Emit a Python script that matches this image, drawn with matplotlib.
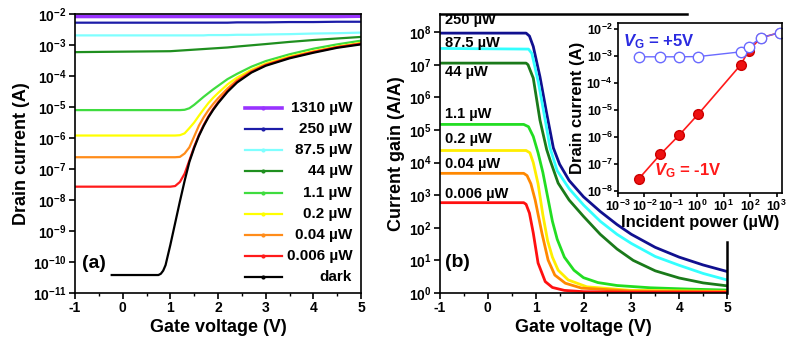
import numpy as np
import matplotlib.pyplot as plt
from matplotlib.ticker import LogLocator, NullLocator, MultipleLocator

plt.rcParams['font.family'] = ['Liberation Sans', 'DejaVu Sans']
plt.rcParams['font.weight'] = 'bold'
plt.rcParams['axes.labelweight'] = 'bold'
plt.rcParams['axes.linewidth'] = 1.2
plt.rcParams['axes.unicode_minus'] = False
plt.rcParams['mathtext.fontset'] = 'custom'
plt.rcParams['mathtext.rm'] = 'Liberation Sans:bold'
plt.rcParams['mathtext.it'] = 'Liberation Sans:bold:italic'
plt.rcParams['mathtext.bf'] = 'Liberation Sans:bold'

# ---- (a) drain current vs gate voltage, log10(I / A) ----
V_a = [-1, 1.0, 1.1, 1.2, 1.3, 1.4, 1.5, 1.6, 1.7, 1.8, 1.9, 2.0, 2.2, 2.4, 2.7, 3.0, 3.5, 4.0, 4.5, 5.0]
logI_1310 = [-2.08, -2.08, -2.08, -2.08, -2.08, -2.08, -2.08, -2.08, -2.08, -2.08, -2.08, -2.08, -2.08, -2.08, -2.08, -2.08, -2.08, -2.08, -2.08, -2.07]
logI_250 = [-2.28, -2.28, -2.28, -2.28, -2.28, -2.28, -2.28, -2.28, -2.28, -2.28, -2.28, -2.28, -2.28, -2.27, -2.27, -2.27, -2.26, -2.26, -2.25, -2.25]
logI_87 = [-2.69, -2.69, -2.69, -2.69, -2.69, -2.69, -2.69, -2.69, -2.69, -2.68, -2.68, -2.68, -2.68, -2.67, -2.67, -2.66, -2.65, -2.63, -2.62, -2.60]
logI_44 = [-3.23, -3.20, -3.19, -3.18, -3.17, -3.16, -3.15, -3.14, -3.13, -3.12, -3.11, -3.10, -3.08, -3.05, -3.01, -2.97, -2.90, -2.84, -2.79, -2.74]
logI_1p1 = [-5.10, -5.10, -5.10, -5.10, -5.09, -5.04, -4.93, -4.80, -4.67, -4.55, -4.43, -4.32, -4.10, -3.93, -3.70, -3.52, -3.30, -3.12, -2.98, -2.86]
logI_0p2 = [-5.92, -5.92, -5.92, -5.91, -5.85, -5.68, -5.50, -5.28, -5.07, -4.87, -4.70, -4.55, -4.27, -4.05, -3.80, -3.60, -3.37, -3.20, -3.05, -2.93]
logI_0p04 = [-6.62, -6.62, -6.62, -6.61, -6.50, -6.30, -5.95, -5.60, -5.33, -5.10, -4.90, -4.72, -4.40, -4.13, -3.84, -3.63, -3.40, -3.22, -3.07, -2.95]
logI_0p006 = [-7.57, -7.57, -7.55, -7.42, -7.15, -6.72, -6.28, -5.90, -5.58, -5.30, -5.06, -4.85, -4.48, -4.18, -3.87, -3.65, -3.41, -3.23, -3.07, -2.96]
V_dark = [-0.23, 0.75, 0.8, 0.85, 0.9, 1.0, 1.1, 1.2, 1.3, 1.4, 1.5, 1.6, 1.7, 1.8, 1.9, 2.0, 2.2, 2.4, 2.7, 3.0, 3.5, 4.0, 4.5, 5.0]
logI_dark = [-10.42, -10.42, -10.38, -10.28, -10.10, -9.45, -8.75, -8.05, -7.38, -6.77, -6.32, -5.93, -5.61, -5.33,
             -5.09, -4.88, -4.51, -4.21, -3.89, -3.67, -3.43, -3.25, -3.09, -2.98]

labels_a = ['1310 µW', '250 µW', '87.5 µW', '44 µW', '1.1 µW', '0.2 µW', '0.04 µW', '0.006 µW', 'dark']
colors = ['#9933ff', '#1c1ca8', '#7fffff', '#1f8f1f', '#3fdc3f', '#ffff00', '#ff8c1a', '#ff1a1a', 'black']

# ---- (b) current gain vs gate voltage, log10(gain) ----
Vg_250 = [-1, 0.8, 0.87, 0.95, 1.09, 1.23, 1.37, 1.5, 1.7, 2.0, 2.35, 2.7, 3.0, 3.5, 4.0, 4.5, 5.0]
G_250 = [7.97, 7.97, 7.88, 7.56, 6.63, 5.51, 4.45, 3.95, 3.45, 2.95, 2.5, 2.1, 1.8, 1.4, 1.1, 0.86, 0.66]
Vg_87 = [-1, 0.85, 0.92, 1.06, 1.2, 1.3, 1.45, 1.7, 2.0, 2.35, 2.7, 3.0, 3.5, 4.0, 4.5, 5.0]
G_87 = [7.5, 7.48, 7.35, 6.43, 5.3, 4.45, 3.75, 3.2, 2.7, 2.2, 1.8, 1.52, 1.12, 0.85, 0.6, 0.4]
Vg_44 = [-1, 0.8, 0.84, 0.95, 1.09, 1.23, 1.3, 1.47, 1.7, 2.0, 2.35, 2.7, 3.04, 3.5, 4.0, 4.5, 5.0]
G_44 = [7.05, 7.05, 7.0, 6.59, 5.3, 4.4, 4.08, 3.37, 2.85, 2.35, 1.8, 1.35, 1.0, 0.68, 0.46, 0.31, 0.22]
Vg_1p1 = [-1, 0.75, 0.85, 0.95, 1.05, 1.15, 1.25, 1.35, 1.45, 1.6, 1.8, 2.0, 2.3, 2.7, 3.4, 4.2, 5.0]
G_1p1 = [5.17, 5.17, 5.1, 4.8, 4.3, 3.7, 2.95, 2.2, 1.65, 1.1, 0.7, 0.47, 0.32, 0.23, 0.16, 0.12, 0.09]
Vg_0p2 = [-1, 0.8, 0.88, 0.95, 1.05, 1.15, 1.25, 1.35, 1.47, 1.68, 2.07, 3.0, 5.0]
G_0p2 = [4.37, 4.37, 4.3, 4.0, 3.35, 2.4, 1.6, 1.1, 0.7, 0.4, 0.19, 0.08, 0.05]
Vg_0p04 = [-1, 0.75, 0.82, 0.9, 0.99, 1.13, 1.26, 1.4, 1.62, 1.96, 3.0, 5.0]
G_0p04 = [3.67, 3.67, 3.6, 3.35, 2.85, 1.84, 1.01, 0.55, 0.3, 0.15, 0.06, 0.04]
Vg_0p006 = [-1, 0.75, 0.8, 0.87, 0.95, 1.05, 1.2, 1.35, 1.6, 2.0, 3.0, 5.0]
G_0p006 = [2.77, 2.77, 2.72, 2.45, 1.84, 0.92, 0.35, 0.17, 0.08, 0.04, 0.025, 0.02]
labels_b = ['250 µW', '87.5 µW', '44 µW', '1.1 µW', '0.2 µW', '0.04 µW', '0.006 µW']
label_y_b = [8.37, 7.67, 6.77, 5.5, 4.73, 3.95, 3.05]

# ---- inset: drain current vs incident power ----
power = [0.006, 0.04, 0.2, 1.1, 44, 87.5, 250, 1310]
I_vg_m1 = [2.8e-8, 2.3e-7, 1.15e-6, 7.2e-6, 4.8e-4, 1.6e-3, 4.8e-3, 7.5e-3]
I_vg_p5 = [9.5e-4, 9.5e-4, 9.5e-4, 9.7e-4, 1.45e-3, 2.2e-3, 4.8e-3, 7.5e-3]

fig = plt.figure(figsize=(7.87, 3.51), dpi=100)
ax1 = fig.add_axes([75 / 787, 58 / 351, 286 / 787, 279 / 351])
ax2 = fig.add_axes([440 / 787, 58 / 351, 287 / 787, 279 / 351])
ax3 = fig.add_axes([618 / 787, 158 / 351, 164 / 787, 170 / 351])

# panel (a)
curves_a = [logI_1310, logI_250, logI_87, logI_44, logI_1p1, logI_0p2, logI_0p04, logI_0p006]
for i, (y, c) in enumerate(zip(curves_a, colors)):
    ax1.plot(V_a, 10 ** np.array(y), color=c, lw=2.6 if i == 0 else 1.6)
ax1.plot(V_dark, 10 ** np.array(logI_dark), color='black', lw=1.6)

ax1.set_yscale('log')
ax1.set_xlim(-1, 5)
ax1.set_ylim(1e-11, 1e-2)
ax1.set_xlabel('Gate voltage (V)', fontsize=13, labelpad=3)
ax1.set_ylabel('Drain current (A)', fontsize=13, labelpad=2)
ax1.xaxis.set_major_locator(MultipleLocator(1))
ax1.xaxis.set_minor_locator(MultipleLocator(0.5))
ax1.yaxis.set_major_locator(LogLocator(base=10, numticks=20))
ax1.yaxis.set_minor_locator(NullLocator())
ax1.text(-0.85, 10 ** -10.05, '(a)', fontsize=14, va='center', ha='left')

# legend drawn by hand so that the labels sit right-aligned
for i, (lab, c) in enumerate(zip(labels_a, colors)):
    yy = 0.663 - i * 0.0757
    ax1.plot([0.594, 0.724], [yy, yy], transform=ax1.transAxes, color=c,
             lw=2.6 if i == 0 else 1.6, clip_on=False)
    ax1.plot([0.659], [yy], transform=ax1.transAxes, color=c, marker='.', ms=4)
    ax1.text(0.969, yy, lab, transform=ax1.transAxes, fontsize=11, ha='right', va='center')

# panel (b)
curves_b = [(Vg_250, G_250), (Vg_87, G_87), (Vg_44, G_44), (Vg_1p1, G_1p1),
            (Vg_0p2, G_0p2), (Vg_0p04, G_0p04), (Vg_0p006, G_0p006)]
cols_b = ['#10108f', '#33ffff', '#1a7a1a', '#22dd22', '#ffee00', '#ff8800', '#ff1010']
for (vx, g), c in zip(curves_b, cols_b):
    ax2.plot(vx, 10 ** np.array(g), color=c, lw=2.0)
for lab, yy in zip(labels_b, label_y_b):
    ax2.text(-0.9, 10 ** yy, lab, fontsize=10.5, va='center', ha='left')
ax2.text(-0.9, 10 ** 0.95, '(b)', fontsize=14, va='center', ha='left')

ax2.set_yscale('log')
ax2.set_xlim(-1, 5)
ax2.set_ylim(1, 3.6e8)
ax2.set_xlabel('Gate voltage (V)', fontsize=13, labelpad=3)
ax2.set_ylabel('Current gain (A/A)', fontsize=13, labelpad=3)
ax2.xaxis.set_major_locator(MultipleLocator(1))
ax2.xaxis.set_minor_locator(MultipleLocator(0.5))
ax2.yaxis.set_major_locator(LogLocator(base=10, numticks=20))
ax2.yaxis.set_minor_locator(NullLocator())
ax2.spines['top'].set_visible(False)
ax2.spines['right'].set_visible(False)
ax2.plot([0, 0.861], [1, 1], transform=ax2.transAxes, color='black', lw=1.8, clip_on=False)
ax2.plot([1, 1], [0, 0.183], transform=ax2.transAxes, color='black', lw=1.8, clip_on=False)

# inset
ax3.plot(power, I_vg_m1, '-o', color='#ff1a1a', lw=1.2, ms=7, mfc='#ee1111', mec='#cc0000')
ax3.plot(power, I_vg_p5, '-o', color='#6a6aff', lw=1.0, ms=7.5, mfc='white', mec='#6a6aff', mew=1.0)
ax3.set_xscale('log')
ax3.set_yscale('log')
ax3.set_xlim(1e-3, 1.6e3)
ax3.set_ylim(8.5e-9, 1.7e-2)
ax3.xaxis.set_major_locator(LogLocator(base=10, numticks=20))
ax3.xaxis.set_minor_locator(NullLocator())
ax3.yaxis.set_major_locator(LogLocator(base=10, numticks=20))
ax3.yaxis.set_minor_locator(NullLocator())
ax3.set_xlabel('Incident power (µW)', fontsize=12, labelpad=1)
ax3.set_ylabel('Drain current (A)', fontsize=12, labelpad=1)
ax3.text(1.6e-3, 10 ** -2.45, r'$\mathit{V}_\mathrm{G}$ = +5V', color='#2a2ae0', fontsize=12, va='center')
ax3.text(2.3e-2, 10 ** -7.25, r'$\mathit{V}_\mathrm{G}$ = -1V', color='#ff1a1a', fontsize=12, va='center')

for ax in (ax1, ax2):
    ax.tick_params(which='major', direction='out', length=4, width=1.2, labelsize=10, pad=2)
    ax.tick_params(which='minor', direction='out', length=2.5, width=1.0)
ax3.tick_params(which='major', direction='out', length=3, width=1.2, labelsize=9, pad=1)

fig.savefig('out.png', dpi=100)
